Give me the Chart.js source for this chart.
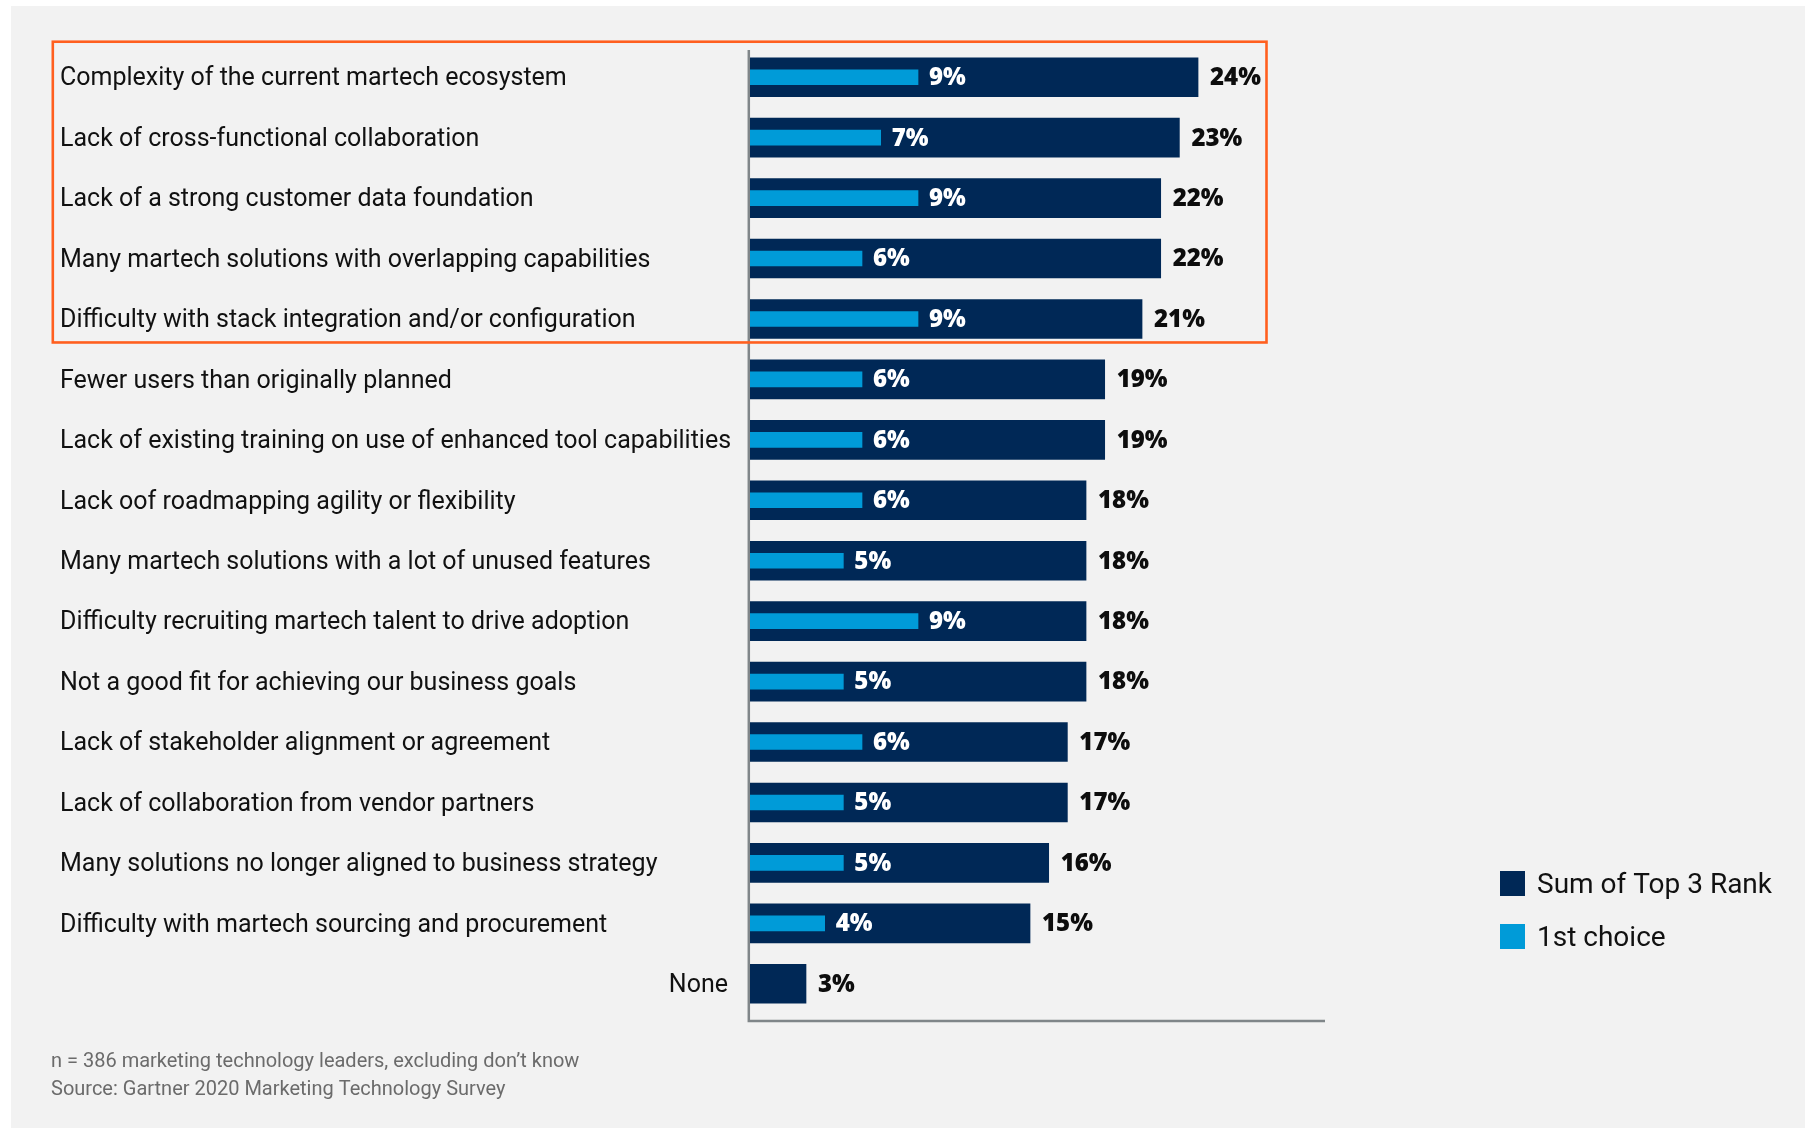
<!DOCTYPE html>
<html>
<head>
<meta charset="utf-8">
<title>Martech barriers</title>
<script src="https://cdn.jsdelivr.net/npm/chart.js@4.4.0/dist/chart.umd.min.js"></script>
<style>
    html, body { margin: 0; padding: 0; background: #ffffff; }
    #wrap { width: 1805px; height: 1128px; }
</style>
</head>
<body>
<div id="wrap"><canvas id="barriers_canvas" width="1805" height="1128"></canvas></div>
<script>
// Survey answers, top to bottom
var categories = [
    "Complexity of the current martech ecosystem",
    "Lack of cross-functional collaboration",
    "Lack of a strong customer data foundation",
    "Many martech solutions with overlapping capabilities",
    "Difficulty with stack integration and/or configuration",
    "Fewer users than originally planned",
    "Lack of existing training on use of enhanced tool capabilities",
    "Lack oof roadmapping agility or flexibility",
    "Many martech solutions with a lot of unused features",
    "Difficulty recruiting martech talent to drive adoption",
    "Not a good fit for achieving our business goals",
    "Lack of stakeholder alignment or agreement",
    "Lack of collaboration from vendor partners",
    "Many solutions no longer aligned to business strategy",
    "Difficulty with martech sourcing and procurement",
    "None"
];
var top3Values = [24, 23, 22, 22, 21, 19, 19, 18, 18, 18, 18, 17, 17, 16, 15, 3];
var firstChoiceValues = [9, 7, 9, 6, 9, 6, 6, 6, 5, 9, 5, 6, 5, 5, 4, null];
var seriesNames = ["Sum of Top 3 Rank", "1st choice"];
var highlightedRows = [0, 4]; // first and last row inside the orange frame
var footnotes = [
    "n = 386 marketing technology leaders, excluding don\u2019t know",
    "Source: Gartner 2020 Marketing Technology Survey"
];

var NAVY = "#002856";
var CYAN = "#009bd8";
var LABEL_FONT = "25px Roboto";
var VALUE_FONT = "800 24px 'Open Sans'";

var barriers_canvas = document.getElementById("barriers_canvas");

// Everything around the bars: background, axis lines, labels, frame, legend, notes
var decorations = {
    id: "decorations",
    beforeDraw: function (chart) {
        var ctx = chart.ctx;
        ctx.save();
        ctx.fillStyle = "#ffffff";
        ctx.fillRect(0, 0, chart.width, chart.height);
        ctx.fillStyle = "#f2f2f2";
        ctx.fillRect(11, 6, chart.width - 11, chart.height - 6);
        ctx.restore();
    },
    beforeDatasetsDraw: function (chart) {
        var ctx = chart.ctx;
        var area = chart.chartArea;
        var zero = chart.scales.x.getPixelForValue(0);

        ctx.save();
        ctx.strokeStyle = "#808689";
        ctx.lineWidth = 2.5;
        ctx.beginPath();
        ctx.moveTo(zero - 1.2, area.top + 3);
        ctx.lineTo(zero - 1.2, area.bottom + 7);
        ctx.lineTo(area.right, area.bottom + 7);
        ctx.stroke();
        ctx.restore();
    },
    afterDatasetsDraw: function (chart) {
        var ctx = chart.ctx;
        var x = chart.scales.x;
        var y = chart.scales.y;
        var zero = x.getPixelForValue(0);

        ctx.save();
        ctx.textBaseline = "middle";

        // category labels ("None" sits against the axis)
        ctx.font = LABEL_FONT;
        ctx.fillStyle = "#111111";
        categories.forEach(function (label, i) {
            var py = y.getPixelForValue(i) + 2;
            if (label === "None") {
                ctx.textAlign = "right";
                ctx.fillText(label, zero - 22, py);
            } else {
                ctx.textAlign = "left";
                ctx.fillText(label, 60, py);
            }
        });

        // value labels
        ctx.font = VALUE_FONT;
        ctx.textAlign = "left";
        top3Values.forEach(function (v, i) {
            var py = y.getPixelForValue(i) + 1;
            ctx.fillStyle = "#0d0d0d";
            ctx.fillText(v + "%", x.getPixelForValue(v) + 12, py);
            var f = firstChoiceValues[i];
            if (f !== null) {
                ctx.fillStyle = "#ffffff";
                ctx.fillText(f + "%", x.getPixelForValue(f) + 11, py);
            }
        });

        // orange frame round the top five
        var boxTop = y.getPixelForValue(highlightedRows[0]) - 35.5;
        var boxBottom = y.getPixelForValue(highlightedRows[1]) + 23.5;
        ctx.strokeStyle = "#ff5f1f";
        ctx.lineWidth = 2.6;
        ctx.strokeRect(52.8, boxTop, 1266.5 - 52.8, boxBottom - boxTop);

        // legend
        var colors = [NAVY, CYAN];
        ctx.font = "28px Roboto";
        seriesNames.forEach(function (name, i) {
            var top = 871 + i * 53;
            ctx.fillStyle = colors[i];
            ctx.fillRect(1500, top, 25, 25);
            ctx.fillStyle = "#111111";
            ctx.fillText(name, 1537, top + 15);
        });

        // notes
        ctx.font = "20px Roboto";
        ctx.fillStyle = "#6b6b6b";
        ctx.textBaseline = "alphabetic";
        footnotes.forEach(function (line, i) {
            ctx.fillText(line, 51, 1067 + i * 27.6);
        });

        ctx.restore();
    }
};

var barChart = new Chart(barriers_canvas, {
    type: "bar",
    data: {
        labels: categories,
        datasets: [
            {
                label: seriesNames[0],
                data: top3Values,
                backgroundColor: NAVY,
                barThickness: 39,
                grouped: false,
                order: 1,
            },
            {
                label: seriesNames[1],
                data: firstChoiceValues,
                backgroundColor: CYAN,
                barThickness: 15,
                grouped: false,
                order: 0,
            },
        ],
    },
    options: {
        indexAxis: "y",
        responsive: false,
        devicePixelRatio: 1,
        animation: false,
        layout: {
            padding: { left: 750, right: 480, top: 47, bottom: 114 },
        },
        plugins: {
            legend: { display: false },
            tooltip: { enabled: false },
        },
        scales: {
            x: { display: false, min: 0, max: 30.8 },
            y: { display: false },
        },
    },
    plugins: [decorations],
});
</script>
</body>
</html>
